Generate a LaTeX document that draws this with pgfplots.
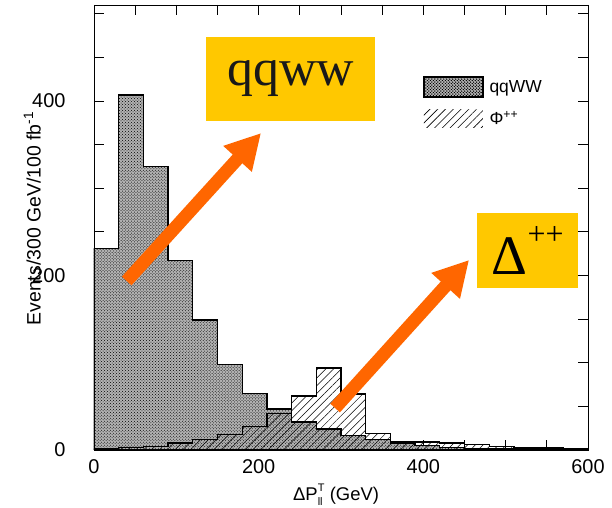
\documentclass[border=0pt]{standalone}
\usepackage{pgfplots}
\pgfplotsset{compat=1.18}
\usepackage{fontspec}
\setmainfont{Liberation Sans}
\newfontfamily\seriffont{Liberation Serif}
\usetikzlibrary{patterns,patterns.meta,arrows.meta}
\definecolor{boxgold}{RGB}{255,200,0}
\definecolor{arroworange}{RGB}{255,102,0}
\begin{document}
\begin{tikzpicture}
\begin{axis}[
  scale only axis,
  width=494bp, height=445bp,
  xmin=0, xmax=600, ymin=0, ymax=510,
  axis line style={line width=0.9bp},
  xtick={0,200,400,600},
  minor xtick={50,100,150,250,300,350,450,500,550},
  ytick={0,200,400},
  minor ytick={50,100,150,250,300,350,450,500},
  tick align=inside,
  major tick length=10bp, minor tick length=10bp,
  tick style={line width=0.8bp, black},
  /pgf/number format/assume math mode=true,
  ticklabel style={font=\fontsize{20}{20}\selectfont},
  yticklabel style={xshift=-25bp},
  xticklabel style={yshift=-6bp},
  xlabel={ΔP\makebox[0pt][l]{\raisebox{1.0ex}{\fontsize{11}{11}\selectfont T}}\raisebox{-0.45ex}{\fontsize{11}{11}\selectfont ll}\hspace{2bp} (GeV)},
  xlabel style={font=\fontsize{18.5}{18.5}\selectfont, at={(axis description cs:0.49,-0.1)}, anchor=center},
  ylabel={Events/300 GeV/100 fb\textsuperscript{-1}},
  ylabel style={font=\fontsize{19.5}{19.5}\selectfont, at={(axis description cs:-0.125,0.52)}, anchor=center},
  legend style={at={(axis description cs:0.666,0.84)}, anchor=north west, draw=none, fill=none,
    font=\fontsize{17.5}{17.5}\selectfont, row sep=12bp, inner sep=0pt,
    nodes={inner xsep=6bp, inner ysep=0pt}},
  legend cell align=left,
]
% qqWW background
\addplot[const plot, fill=gray!60, draw=black, line width=1.3bp,
  postaction={pattern=crosshatch dots, pattern color=black},
  legend image code/.code={
    \path[draw=none, fill=gray!60] (0bp,-10bp) rectangle (59bp,10bp);
    \path[draw=none, pattern=crosshatch dots, pattern color=black] (0bp,-10bp) rectangle (59bp,10bp);}]
coordinates {
(0,231)(30,407)(60,325)(90,217)(120,149)(150,98)(180,65)(210,47)(240,32)(270,24)
(300,17)(330,12)(360,8)(390,5)(420,3)(450,2)(480,2)(510,1)(540,1)(570,0.5)(600,0.5)
} \closedcycle;
\addlegendentry{qqWW}
% Phi++ signal
\addplot[const plot, pattern={Lines[angle=45,distance=5.5bp,line width=0.5bp]}, pattern color=black,
  draw=black, line width=1.3bp,
  legend image code/.code={
    \path[draw=none, pattern={Lines[angle=45,distance=5.5bp,line width=0.6bp]}, pattern color=black] (0bp,-9bp) rectangle (59bp,9bp);}]
coordinates {
(0,1)(30,3)(60,4)(90,8)(120,12)(150,18)(180,27)(210,42)(240,62)(270,94)
(300,64)(330,19)(360,10)(390,9)(420,8)(450,6)(480,4)(510,3)(540,3)(570,1)(600,1)
} \closedcycle;
\addlegendentry{Φ\textsuperscript{++}}
% annotations
\node[fill=boxgold, minimum width=169bp, minimum height=84bp, inner sep=0pt,
  font=\seriffont\fontsize{52}{52}\selectfont, text=black!90]
  at (axis cs:238.8,425.2) {qqww};
\node[fill=boxgold, minimum width=101bp, minimum height=75bp, inner sep=0pt,
  font=\seriffont\fontsize{56}{56}\selectfont, text=black]
  at (axis cs:526.7,228.7) {Δ\raisebox{0.55em}{\fontsize{32}{32}\selectfont ++}};
\draw[arroworange, line width=13bp, -{Triangle[length=35bp,width=36bp]}]
  (axis cs:39.7,193.7) -- (axis cs:202.9,363.3);
\draw[arroworange, line width=13bp, -{Triangle[length=35bp,width=36bp]}]
  (axis cs:292.8,48.1) -- (axis cs:455.6,217.8);
\end{axis}
\pgfresetboundingbox
\path ([shift={(-94bp,-58bp)}]current axis.south west) rectangle ([shift={(24bp,5bp)}]current axis.north east);
\end{tikzpicture}
\end{document}
